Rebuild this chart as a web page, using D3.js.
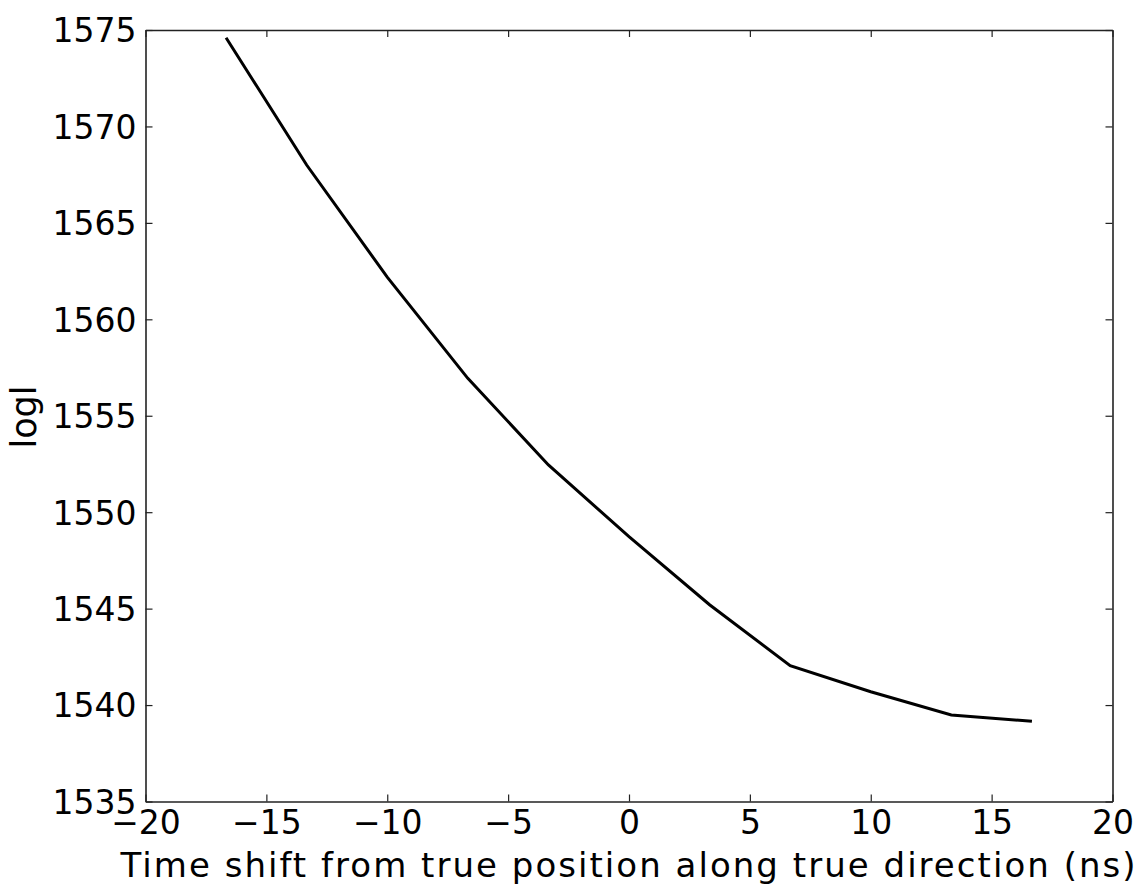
<!DOCTYPE html>
<html>
<head>
<meta charset="utf-8">
<script src="https://cdn.jsdelivr.net/npm/d3@7"></script>
<style>
html,body{margin:0;padding:0;background:#fff;}
svg{display:block;}
text{font-family:"DejaVu Sans",sans-serif;fill:#000;}
</style>
</head>
<body>
<svg id="chart" width="1146" height="888"></svg>
<script>
const timeShift = [-16.667, -13.333, -10, -6.667, -3.333, 0, 3.333, 6.667, 10, 13.333, 16.667];
const logl = [1574.6, 1568.0, 1562.19, 1556.94, 1552.45, 1548.73, 1545.2, 1542.04, 1540.69, 1539.49, 1539.16];
const xTicks = [-20, -15, -10, -5, 0, 5, 10, 15, 20];
const yTicks = [1535, 1540, 1545, 1550, 1555, 1560, 1565, 1570, 1575];
const xLabel = "Time shift from true position along true direction (ns)";
const yLabel = "logl";

(function () {
const svg = d3.select("#chart");
const L = 145.5, R = 1112.5, T = 30, B = 801.5;
const x = d3.scaleLinear().domain([-20, 20]).range([L, R]);
const y = d3.scaleLinear().domain([1535, 1575]).range([B, T]);
const fmt = d => d < 0 ? "\u2212" + Math.abs(d) : String(d);
const fs = 33, tickLen = 7;

const line = d3.line().x((d, i) => x(timeShift[i])).y(d => y(d));
svg.append("path").datum(logl).attr("d", line)
  .attr("fill", "none").attr("stroke", "#000").attr("stroke-width", 3)
  .attr("stroke-linejoin", "miter");

const gBottom = svg.append("g").attr("transform", `translate(0,${B})`)
  .call(d3.axisBottom(x).tickValues(xTicks).tickSizeInner(-tickLen).tickSizeOuter(0).tickPadding(9.5).tickFormat(fmt));
const gTop = svg.append("g").attr("transform", `translate(0,${T})`)
  .call(d3.axisTop(x).tickValues(xTicks).tickSizeInner(-tickLen).tickSizeOuter(0).tickFormat(""));
const gLeft = svg.append("g").attr("transform", `translate(${L},0)`)
  .call(d3.axisLeft(y).tickValues(yTicks).tickSizeInner(-tickLen).tickSizeOuter(0).tickPadding(9).tickFormat(d => d));
const gRight = svg.append("g").attr("transform", `translate(${R},0)`)
  .call(d3.axisRight(y).tickValues(yTicks).tickSizeInner(-tickLen).tickSizeOuter(0).tickFormat(""));

[gBottom, gTop, gLeft, gRight].forEach(g => {
  g.select(".domain").attr("stroke", "#222").attr("stroke-width", 1.6);
  g.selectAll(".tick line").attr("stroke", "#222").attr("stroke-width", 1.2);
  g.selectAll("text").attr("font-size", fs).attr("font-family", "DejaVu Sans").attr("fill", "#000");
});
gLeft.selectAll("text").attr("dy", "0.36em");

svg.append("text").attr("x", 628).attr("y", 877)
  .attr("text-anchor", "middle").attr("font-size", 34)
  .attr("textLength", 1015).attr("lengthAdjust", "spacing").text(xLabel);
svg.append("text").attr("transform", `translate(36,417) rotate(-90)`)
  .attr("text-anchor", "middle").attr("font-size", 35).text(yLabel);
})();
</script>
</body>
</html>
